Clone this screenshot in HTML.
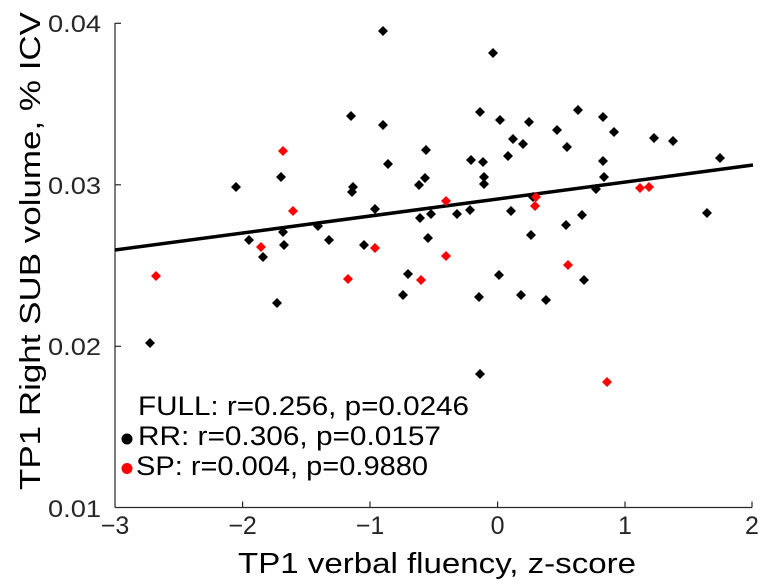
<!DOCTYPE html>
<html><head><meta charset="utf-8"><style>
html,body{margin:0;padding:0;background:#fff;}
svg{display:block;font-family:"Liberation Sans",sans-serif;}
</style></head><body>
<svg width="770" height="585" viewBox="0 0 770 585" xmlns="http://www.w3.org/2000/svg">
<defs>
<polygon id="d" points="0,-5 5,0 0,5 -5,0"/>
</defs>
<g stroke="#262626" stroke-width="1.2" fill="none">
<line x1="115" y1="23" x2="115" y2="507.5"/>
<line x1="115" y1="507.5" x2="752" y2="507.5"/>
<line x1="115" y1="23.3" x2="121" y2="23.3"/>
<line x1="115" y1="184.8" x2="121" y2="184.8"/>
<line x1="115" y1="346.3" x2="121" y2="346.3"/>
<line x1="242.6" y1="507.5" x2="242.6" y2="501.5"/>
<line x1="370" y1="507.5" x2="370" y2="501.5"/>
<line x1="497.6" y1="507.5" x2="497.6" y2="501.5"/>
<line x1="625" y1="507.5" x2="625" y2="501.5"/>
<line x1="752" y1="507.5" x2="752" y2="501.5"/>
</g>
<g font-size="24" fill="#262626" text-anchor="end">
<text x="101" y="32" textLength="53" lengthAdjust="spacingAndGlyphs">0.04</text>
<text x="101" y="194" textLength="53" lengthAdjust="spacingAndGlyphs">0.03</text>
<text x="101" y="355" textLength="53" lengthAdjust="spacingAndGlyphs">0.02</text>
<text x="101" y="517" textLength="53" lengthAdjust="spacingAndGlyphs">0.01</text>
</g>
<g font-size="25" fill="#262626" text-anchor="middle">
<text x="115" y="534">−3</text>
<text x="242.6" y="534">−2</text>
<text x="370" y="534">−1</text>
<text x="497.6" y="534">0</text>
<text x="625" y="534">1</text>
<text x="752" y="534">2</text>
</g>
<text x="437" y="573" font-size="29" text-anchor="middle" fill="#000" textLength="398" lengthAdjust="spacingAndGlyphs">TP1 verbal fluency, z-score</text>
<text transform="translate(40,251) rotate(-90)" font-size="29" text-anchor="middle" fill="#000" textLength="478" lengthAdjust="spacingAndGlyphs">TP1 Right SUB volume, % ICV</text>
<line x1="115" y1="250" x2="753" y2="165" stroke="#000" stroke-width="3.5"/>
<g fill="#000">
<use href="#d" x="383" y="31"/><use href="#d" x="351" y="116"/><use href="#d" x="383" y="125"/><use href="#d" x="426" y="150"/><use href="#d" x="388" y="164"/><use href="#d" x="281" y="177"/><use href="#d" x="236" y="187"/><use href="#d" x="353" y="187"/><use href="#d" x="352" y="192"/><use href="#d" x="419" y="185"/><use href="#d" x="425" y="178"/><use href="#d" x="375" y="209"/><use href="#d" x="420" y="218"/><use href="#d" x="431" y="214"/><use href="#d" x="318" y="226"/><use href="#d" x="283" y="232"/><use href="#d" x="249" y="240"/><use href="#d" x="329" y="240"/><use href="#d" x="284" y="245"/><use href="#d" x="364" y="245"/><use href="#d" x="428" y="238"/><use href="#d" x="263" y="257"/><use href="#d" x="408" y="274"/><use href="#d" x="403" y="295"/><use href="#d" x="277" y="303"/><use href="#d" x="150" y="343"/>
<use href="#d" x="493" y="53"/><use href="#d" x="480" y="112"/><use href="#d" x="500" y="120"/><use href="#d" x="529" y="122"/><use href="#d" x="578" y="110"/><use href="#d" x="603" y="117"/><use href="#d" x="614" y="132"/><use href="#d" x="557" y="130"/><use href="#d" x="513" y="139"/><use href="#d" x="523" y="144"/><use href="#d" x="567" y="147"/><use href="#d" x="654" y="138"/><use href="#d" x="673" y="141"/><use href="#d" x="471" y="160"/><use href="#d" x="483" y="162"/><use href="#d" x="508" y="156"/><use href="#d" x="603" y="161"/><use href="#d" x="720" y="158"/><use href="#d" x="484" y="177"/><use href="#d" x="484" y="184"/><use href="#d" x="604" y="177"/><use href="#d" x="596" y="189"/><use href="#d" x="457" y="214"/><use href="#d" x="470" y="210"/><use href="#d" x="511" y="211"/><use href="#d" x="533" y="197"/><use href="#d" x="582" y="215"/><use href="#d" x="707" y="213"/><use href="#d" x="566" y="225"/><use href="#d" x="531" y="235"/><use href="#d" x="499" y="275"/><use href="#d" x="479" y="297"/><use href="#d" x="521" y="295"/><use href="#d" x="546" y="300"/><use href="#d" x="584" y="280"/><use href="#d" x="480" y="374"/>
</g>
<g fill="#ff0000">
<use href="#d" x="283" y="151"/><use href="#d" x="293" y="211"/><use href="#d" x="261" y="247"/><use href="#d" x="375" y="248"/><use href="#d" x="156" y="276"/><use href="#d" x="348" y="279"/><use href="#d" x="421" y="280"/>
<use href="#d" x="446" y="201"/><use href="#d" x="536" y="197"/><use href="#d" x="535" y="206"/><use href="#d" x="640" y="188"/><use href="#d" x="649" y="187"/><use href="#d" x="446" y="256"/><use href="#d" x="568" y="265"/><use href="#d" x="607" y="382"/>
</g>
<g font-size="27" fill="#000">
<text x="138" y="415" textLength="331" lengthAdjust="spacingAndGlyphs">FULL: r=0.256, p=0.0246</text>
<text x="138" y="445" textLength="303" lengthAdjust="spacingAndGlyphs">RR: r=0.306, p=0.0157</text>
<text x="136" y="475" textLength="292" lengthAdjust="spacingAndGlyphs">SP: r=0.004, p=0.9880</text>
</g>
<circle cx="127" cy="439" r="5.5" fill="#000"/>
<circle cx="127" cy="468.5" r="5.5" fill="#ff0000"/>
</svg>
</body></html>
